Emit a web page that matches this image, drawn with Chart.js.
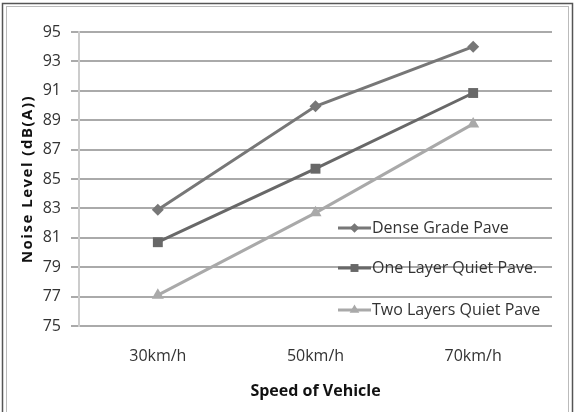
<!DOCTYPE html>
<html><head><meta charset="utf-8">
<script src="https://cdn.jsdelivr.net/npm/chart.js@4/dist/chart.umd.min.js"></script>
<style>html,body{margin:0;padding:0;background:#fff}#wrap{width:575px;height:412px;position:relative}</style>
</head><body><div id="wrap"><canvas id="c" width="575" height="412"></canvas></div>
<script>
const categories = ["30km/h", "50km/h", "70km/h"];
const denseGrade = [82.9, 89.95, 94.0];
const oneLayer = [80.7, 85.7, 90.85];
const twoLayers = [77.1, 82.7, 88.75];
const seriesNames = ["Dense Grade Pave", "One Layer Quiet Pave.", "Two Layers Quiet Pave"];
const yTicks = [75, 77, 79, 81, 83, 85, 87, 89, 91, 93, 95];
const xTitle = "Speed of Vehicle";
const yTitle = "Noise Level (dB(A))";

const colors = ["#777777", "#686868", "#a9a9a9"];
const styles = ["rectRot", "rect", "triangle"];
const radii = [6, 7, 7];
const FONT = '"Open Sans", "Liberation Sans", sans-serif';

const legendPlugin = {
  id: 'insideLegend',
  afterDatasetsDraw(chart) {
    const ctx = chart.ctx;
    const ys = [228, 268, 310];
    chart.data.datasets.forEach((ds, i) => {
      const y = ys[i];
      ctx.save();
      ctx.strokeStyle = ds.borderColor;
      ctx.fillStyle = ds.borderColor;
      ctx.lineWidth = 3;
      ctx.beginPath(); ctx.moveTo(338, y); ctx.lineTo(371, y); ctx.stroke();
      ctx.lineWidth = 0.01;
      Chart.helpers.drawPoint(ctx, {pointStyle: ds.pointStyle, radius: ds.pointRadius * 0.8, borderWidth: 0}, 354.5, y);
      ctx.fillStyle = '#333';
      ctx.font = '16px ' + FONT;
      ctx.textBaseline = 'middle';
      ctx.fillText(ds.label, 372, y);
      ctx.restore();
    });
  }
};
const yTitlePlugin = {
  id: 'yTitle',
  afterDraw(chart) {
    const ctx = chart.ctx;
    const a = chart.chartArea;
    ctx.save();
    ctx.translate(28, (a.top + a.bottom) / 2);
    ctx.rotate(-Math.PI / 2);
    ctx.font = 'bold 15px ' + FONT;
    if ('letterSpacing' in ctx) ctx.letterSpacing = '1.5px';
    ctx.fillStyle = '#111';
    ctx.textAlign = 'center';
    ctx.textBaseline = 'middle';
    ctx.fillText(yTitle, 0, 0);
    ctx.restore();
  }
};
const borderPlugin = {
  id: 'frame',
  afterDraw(chart) {
    const ctx = chart.ctx;
    ctx.save();
    ctx.strokeStyle = '#555'; ctx.lineWidth = 1.5;
    ctx.strokeRect(2.5, 3.5, 570, 420);
    ctx.strokeStyle = '#bbb'; ctx.lineWidth = 1;
    ctx.strokeRect(6.5, 6.5, 562, 420);
    ctx.restore();
  }
};

new Chart(document.getElementById('c'), {
  type: 'line',
  data: {
    labels: categories,
    datasets: [denseGrade, oneLayer, twoLayers].map((d, i) => ({
      label: seriesNames[i],
      data: d,
      borderColor: colors[i],
      backgroundColor: colors[i],
      borderWidth: 3,
      pointStyle: styles[i],
      pointRadius: radii[i],
      pointBorderWidth: 0,
      tension: 0
    }))
  },
  options: {
    responsive: false,
    animation: false,
    layout: {padding: {left: 10, right: 23, top: 32, bottom: 10}},
    plugins: {legend: {display: false}, tooltip: {enabled: false}},
    scales: {
      x: {
        offset: true,
        grid: {display: false, drawTicks: false},
        border: {display: false},
        afterFit(scale) { scale.height = 76; },
        ticks: {color: '#333', font: {size: 16, family: FONT}, padding: 21},
        title: {display: true, text: xTitle, color: '#111', font: {size: 16, weight: 'bold', family: FONT}, padding: {top: 0, bottom: 1}}
      },
      y: {
        min: 75, max: 95,
        afterBuildTicks(scale) { scale.ticks = yTicks.map(v => ({value: v})); },
        afterFit(scale) { scale.width = 69; },
        grid: {color: '#aaaaaa', lineWidth: 2, tickLength: 8},
        border: {color: '#cccccc', width: 2},
        ticks: {color: '#333', font: {size: 16, family: FONT}, padding: 10},
        title: {display: false}
      }
    }
  },
  plugins: [legendPlugin, yTitlePlugin, borderPlugin]
});
</script></body></html>
